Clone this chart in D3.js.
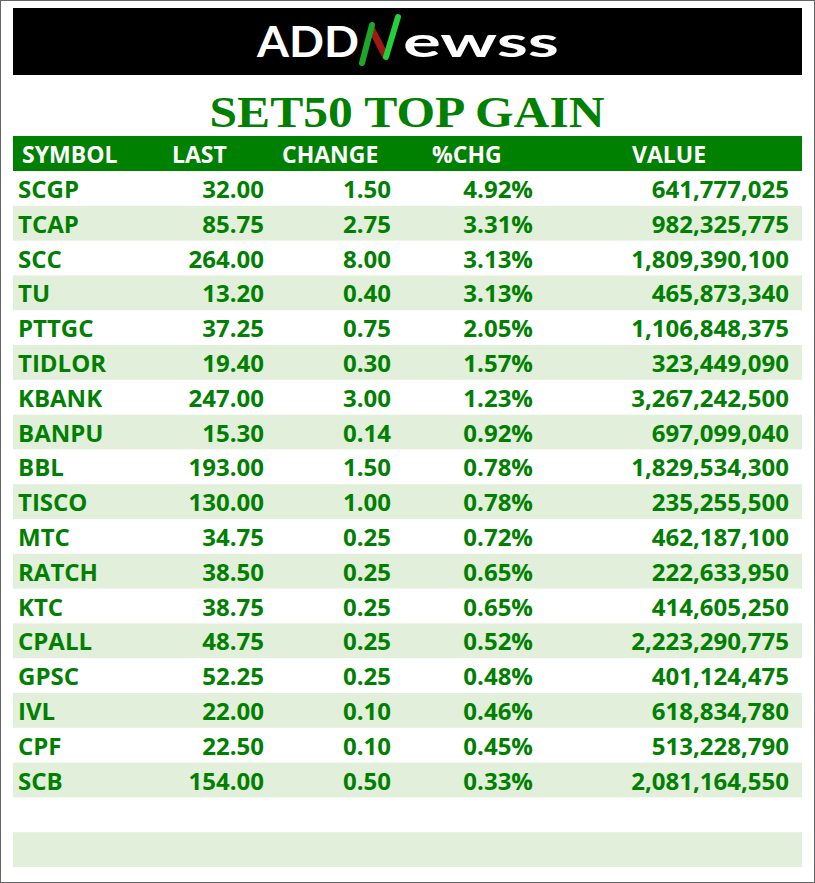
<!DOCTYPE html>
<html><head><meta charset="utf-8">
<script src="https://cdn.jsdelivr.net/npm/d3@7"></script>
<style>body{margin:0;background:#fff}</style>
</head><body>
<svg id="chart" width="815" height="883"></svg>
<script>
const headers = ['SYMBOL', 'LAST', 'CHANGE', '%CHG', 'VALUE'];
const symbols = ['SCGP','TCAP','SCC','TU','PTTGC','TIDLOR','KBANK','BANPU','BBL','TISCO','MTC','RATCH','KTC','CPALL','GPSC','IVL','CPF','SCB'];
const last = ['32.00','85.75','264.00','13.20','37.25','19.40','247.00','15.30','193.00','130.00','34.75','38.50','38.75','48.75','52.25','22.00','22.50','154.00'];
const change = ['1.50','2.75','8.00','0.40','0.75','0.30','3.00','0.14','1.50','1.00','0.25','0.25','0.25','0.25','0.25','0.10','0.10','0.50'];
const pctChg = ['4.92%','3.31%','3.13%','3.13%','2.05%','1.57%','1.23%','0.92%','0.78%','0.78%','0.72%','0.65%','0.65%','0.52%','0.48%','0.46%','0.45%','0.33%'];
const value = ['641,777,025','982,325,775','1,809,390,100','465,873,340','1,106,848,375','323,449,090','3,267,242,500','697,099,040','1,829,534,300','235,255,500','462,187,100','222,633,950','414,605,250','2,223,290,775','401,124,475','618,834,780','513,228,790','2,081,164,550'];

const svg = d3.select('#chart');
const green = '#008000';
const font = "'Liberation Sans Narrow', 'Open Sans', sans-serif";

svg.append('rect').attr('x', 0.5).attr('y', 0.5).attr('width', 814).attr('height', 882)
    .attr('fill', 'none').attr('stroke', '#666');

// logo
svg.append('rect').attr('x', 13).attr('y', 8).attr('width', 789).attr('height', 67).attr('fill', '#000');
const logo = svg.append('g').style('font-family', 'Lato, sans-serif').style('font-weight', 'bold')
    .style('font-size', '42px').attr('fill', '#fff');
logo.append('text').attr('x', 257).attr('y', 57).attr('textLength', 102).attr('lengthAdjust', 'spacingAndGlyphs').text('ADD');
logo.append('path').attr('d', 'M371,28 L386,57').attr('stroke', '#a01818').attr('stroke-width', 7);
logo.append('path').attr('d', 'M362,63 L372,25').attr('stroke', '#1aa82a').attr('stroke-width', 6).attr('stroke-linecap', 'round');
logo.append('path').attr('d', 'M386,57 L398,17').attr('stroke', '#22d03a').attr('stroke-width', 6).attr('stroke-linecap', 'round');
logo.append('text').attr('x', 403).attr('y', 57).attr('textLength', 156).attr('lengthAdjust', 'spacingAndGlyphs').text('ewss');

// title
svg.append('text').attr('x', 407).attr('y', 127).attr('text-anchor', 'middle')
    .attr('textLength', 395).attr('lengthAdjust', 'spacingAndGlyphs')
    .style('font-family', "'Liberation Serif', serif").style('font-weight', 'bold')
    .style('font-size', '44px').attr('fill', green).text('SET50 TOP GAIN');

// table
const rowH = 34.8, tableTop = 171, nRows = 20;
const y = d3.scaleLinear().domain([0, nRows]).range([tableTop, tableTop + nRows * rowH]);
svg.append('rect').attr('x', 13).attr('y', 136).attr('width', 789).attr('height', tableTop - 136).attr('fill', green);

const headX = [22, 172, 282, 432, 632];
svg.selectAll('text.head').data(headers).enter().append('text')
    .attr('class', 'head').attr('x', (d, i) => headX[i]).attr('y', 163)
    .style('font-family', font).style('font-weight', 'bold').style('font-size', '23px')
    .attr('fill', '#fff').text(d => d);

svg.selectAll('rect.band').data(d3.range(nRows).filter(i => i % 2 == 1)).enter().append('rect')
    .attr('x', 13).attr('width', 789).attr('y', d => y(d)).attr('height', rowH).attr('fill', '#e2efda');

const cols = [
    { vals: symbols, x: 18, anchor: 'start' },
    { vals: last, x: 264, anchor: 'end' },
    { vals: change, x: 391, anchor: 'end' },
    { vals: pctChg, x: 533, anchor: 'end' },
    { vals: value, x: 789, anchor: 'end' }
];
cols.forEach(c => {
    svg.append('g').selectAll('text').data(c.vals).enter().append('text')
        .attr('x', c.x).attr('y', (d, i) => y(i) + 27).attr('text-anchor', c.anchor)
        .style('font-family', font).style('font-weight', 'bold').style('font-size', '24px')
        .attr('fill', green).text(d => d);
});
</script>
</body></html>
